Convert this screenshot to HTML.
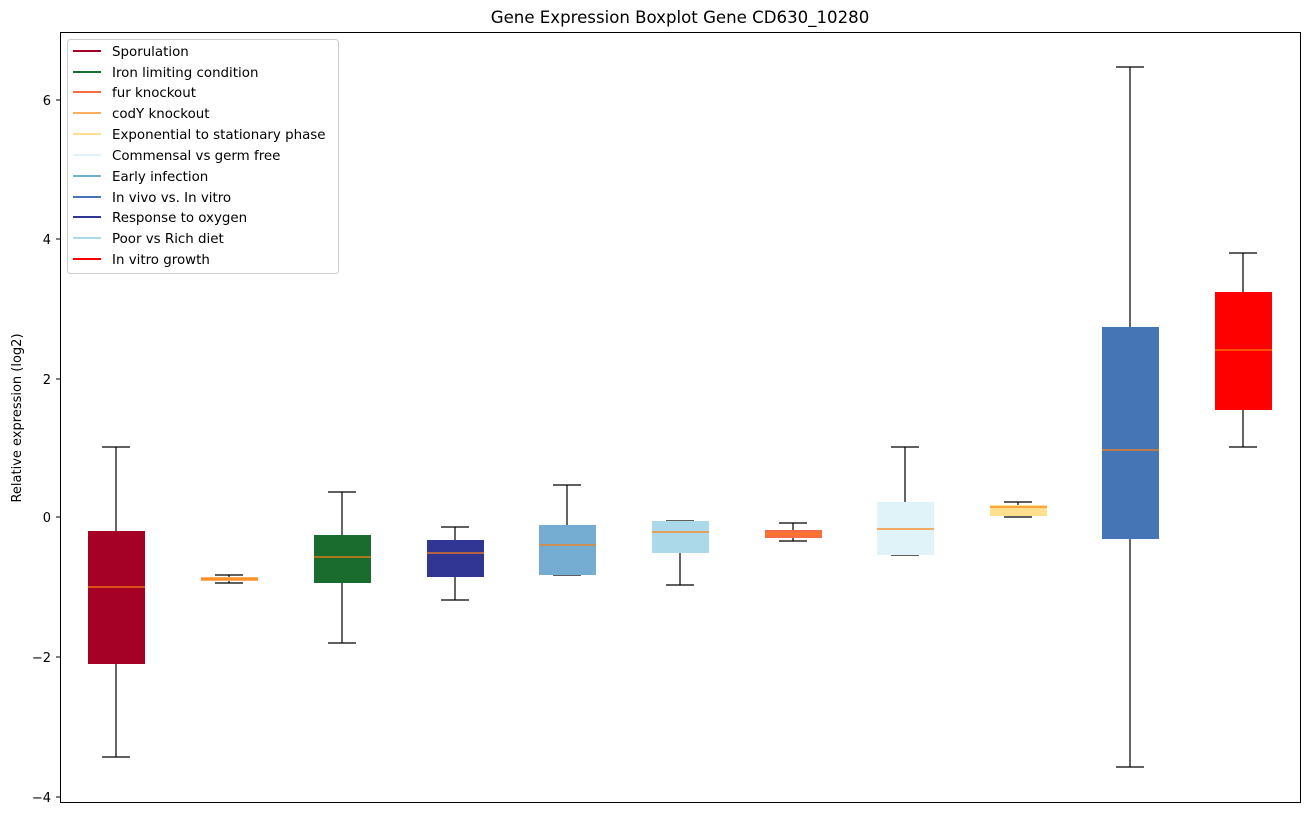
<!DOCTYPE html>
<html><head><meta charset="utf-8"><style>body{margin:0;background:#fff}svg{display:block}text{font-family:"DejaVu Sans","Liberation Sans",sans-serif}</style></head><body>
<svg width="1309" height="814" viewBox="0 0 1309 814" xmlns="http://www.w3.org/2000/svg">
<text x="680" y="23" font-size="16.6" text-anchor="middle">Gene Expression Boxplot Gene CD630_10280</text>
<rect x="60.5" y="32.5" width="1240" height="770" fill="none" stroke="#000" stroke-width="1"/>
<g font-size="13" text-anchor="end">
<line x1="56" y1="100" x2="60" y2="100" stroke="#000"/><text x="51" y="105">6</text>
<line x1="56" y1="239" x2="60" y2="239" stroke="#000"/><text x="51" y="244">4</text>
<line x1="56" y1="379" x2="60" y2="379" stroke="#000"/><text x="51" y="384">2</text>
<line x1="56" y1="517" x2="60" y2="517" stroke="#000"/><text x="51" y="522">0</text>
<line x1="56" y1="657" x2="60" y2="657" stroke="#000"/><text x="51" y="662">−2</text>
<line x1="56" y1="797" x2="60" y2="797" stroke="#000"/><text x="51" y="802">−4</text>
</g>
<text transform="translate(21,418) rotate(-90)" font-size="13" text-anchor="middle">Relative expression (log2)</text>
<g stroke="#000" stroke-width="1.2" fill="none">
<path d="M116 447V531M116 664V757M102 447H130M102 757H130"/>
<path d="M229 575V583M215 575H243M215 583H243"/>
<path d="M342 492V535M342 583V643M328 492H356M328 643H356"/>
<path d="M455 527V540M455 577V600M441 527H469M441 600H469"/>
<path d="M567 485V525M553 485H581M553 575H581"/>
<path d="M680 553V585M666 521H694M666 585H694"/>
<path d="M793 523V530M793 538V541M779 523H807M779 541H807"/>
<path d="M905 447V502M891 447H919M891 555H919"/>
<path d="M1018 502V505M1004 502H1032M1004 517H1032"/>
<path d="M1130 67V327M1130 539V767M1116 67H1144M1116 767H1144"/>
<path d="M1243 253V292M1243 410V447M1229 253H1257M1229 447H1257"/>
</g>
<g>
<rect x="88" y="531" width="57" height="133" fill="#a50026"/>
<rect x="201" y="577" width="57" height="4" fill="#fdae61"/>
<rect x="314" y="535" width="57" height="48" fill="#1a6b2e"/>
<rect x="427" y="540" width="57" height="37" fill="#313695"/>
<rect x="539" y="525" width="57" height="50" fill="#74add1"/>
<rect x="652" y="521" width="57" height="32" fill="#abd9e9"/>
<rect x="765" y="530" width="57" height="8" fill="#f46d43"/>
<rect x="877" y="502" width="57" height="53" fill="#e0f3f8"/>
<rect x="990" y="505" width="57" height="11" fill="#fee090"/>
<rect x="1102" y="327" width="57" height="212" fill="#4575b4"/>
<rect x="1215" y="292" width="57" height="118" fill="#ff0000"/>
</g>
<g stroke="#ff7f0e" stroke-width="1.2">
<path d="M88 587H145M201 579H258M314 557H371M427 553H484M539 545H596M652 532H709M765 534H822M877 529H934M990 507H1047M1102 450H1159M1215 350H1272"/>
</g>
<rect x="67.5" y="39.5" width="271" height="234" rx="3" fill="#fff" stroke="#ccc"/>
<g font-size="13.4">
<line x1="73" y1="51" x2="101" y2="51" stroke="#a50026" stroke-width="2"/><text x="112" y="56">Sporulation</text>
<line x1="73" y1="72" x2="101" y2="72" stroke="#1a6b2e" stroke-width="2"/><text x="112" y="77">Iron limiting condition</text>
<line x1="73" y1="92" x2="101" y2="92" stroke="#f46d43" stroke-width="2"/><text x="112" y="97">fur knockout</text>
<line x1="73" y1="113" x2="101" y2="113" stroke="#fdae61" stroke-width="2"/><text x="112" y="118">codY knockout</text>
<line x1="73" y1="134" x2="101" y2="134" stroke="#fee090" stroke-width="2"/><text x="112" y="139">Exponential to stationary phase</text>
<line x1="73" y1="155" x2="101" y2="155" stroke="#e0f3f8" stroke-width="2"/><text x="112" y="160">Commensal vs germ free</text>
<line x1="73" y1="176" x2="101" y2="176" stroke="#74add1" stroke-width="2"/><text x="112" y="181">Early infection</text>
<line x1="73" y1="197" x2="101" y2="197" stroke="#4575b4" stroke-width="2"/><text x="112" y="202">In vivo vs. In vitro</text>
<line x1="73" y1="217" x2="101" y2="217" stroke="#313695" stroke-width="2"/><text x="112" y="222">Response to oxygen</text>
<line x1="73" y1="238" x2="101" y2="238" stroke="#abd9e9" stroke-width="2"/><text x="112" y="243">Poor vs Rich diet</text>
<line x1="73" y1="259" x2="101" y2="259" stroke="#ff0000" stroke-width="2"/><text x="112" y="264">In vitro growth</text>
</g>
</svg>
</body></html>
